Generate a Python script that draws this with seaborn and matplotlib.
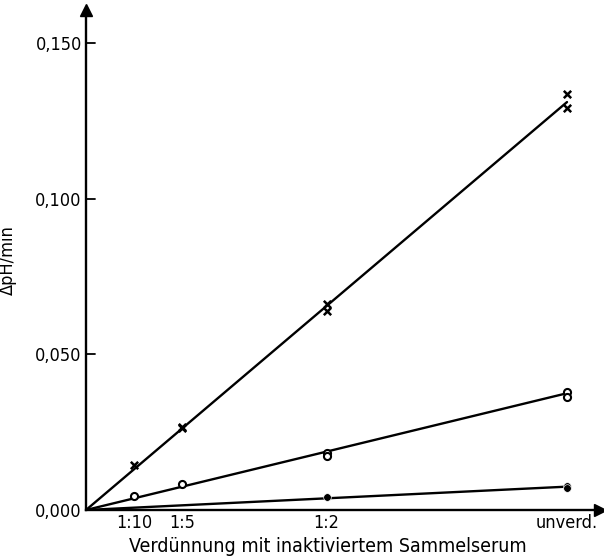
import matplotlib
matplotlib.use("Agg")
import matplotlib.pyplot as plt
import seaborn as sns
from matplotlib import font_manager

# ---- data ----
tick_pos = [0.1, 0.2, 0.5, 1.0]
tick_labels = ["1:10", "1:5", "1:2", "unverd."]
ytick_vals = [0.0, 0.05, 0.10, 0.15]
ytick_labels = ["0,000", "0,050", "0,100", "0,150"]

x_cross = [0.1, 0.2, 0.2, 0.5, 0.5, 1.0, 1.0]
y_cross = [0.0145, 0.0268, 0.0262, 0.0660, 0.0640, 0.1336, 0.1290]

x_circle = [0.1, 0.2, 0.5, 0.5, 1.0, 1.0]
y_circle = [0.0045, 0.0083, 0.0183, 0.0172, 0.0380, 0.0362]

x_dot = [0.5, 1.0, 1.0]
y_dot = [0.0042, 0.0077, 0.0071]

line_x = [0.0, 1.0]
line_cross = [0.0, 0.131]
line_circle = [0.0, 0.0375]
line_dot = [0.0, 0.0075]

sns.set_style("white")
names = sorted({f.name for f in font_manager.fontManager.ttflist})
fam = "Liberation Sans Narrow" if "Liberation Sans Narrow" in names else "DejaVu Sans"
plt.rcParams["font.family"] = [fam, "DejaVu Sans"]
plt.rcParams["font.stretch"] = "condensed"
plt.rcParams["text.color"] = "black"
plt.rcParams["axes.labelcolor"] = "black"
plt.rcParams["xtick.color"] = "black"
plt.rcParams["ytick.color"] = "black"

fig = plt.figure(figsize=(6.04, 5.57), dpi=100)
ax = fig.add_axes([86/604, 47/557, 514/604, 500/557])

for ly in (line_cross, line_circle, line_dot):
    sns.lineplot(x=line_x, y=ly, ax=ax, color="black", linewidth=1.7)

sns.scatterplot(x=x_cross, y=y_cross, ax=ax, marker="x", s=28, color="black", linewidth=1.8)
sns.scatterplot(x=x_circle, y=y_circle, ax=ax, marker="o", s=26, facecolor="white",
                edgecolor="black", linewidth=1.5, zorder=3)
sns.scatterplot(x=x_dot, y=y_dot, ax=ax, marker="o", s=30, color="black", zorder=3)

ax.set_xlim(0, 514/481)
ax.set_ylim(0, 500/3114)
ax.set_xticks(tick_pos)
ax.set_xticklabels(tick_labels, fontsize=13)
ax.set_yticks(ytick_vals)
ax.set_yticklabels(ytick_labels, fontsize=13)
ax.tick_params(axis="x", direction="in", length=7, width=1.3, color="black", pad=3)
ax.tick_params(axis="y", direction="out", length=0, pad=3)
for v in ytick_vals[1:]:
    ax.plot([0, 0.018], [v, v], color="black", lw=1.3, clip_on=False)

for s in ("top", "right"):
    ax.spines[s].set_visible(False)
for s in ("left", "bottom"):
    ax.spines[s].set_linewidth(1.7)
    ax.spines[s].set_color("black")

ax.plot(1, 0, ">", color="black", markersize=9, transform=ax.transAxes, clip_on=False)
ax.plot(0, 1, "^", color="black", markersize=9, transform=ax.transAxes, clip_on=False)

ax.set_xlabel("Verdünnung mit inaktiviertem Sammelserum", fontsize=14)
ax.xaxis.set_label_coords(0.47, -0.053)
ax.set_ylabel("ΔpH/min", fontsize=13)
ax.yaxis.set_label_coords(-0.135, 0.5)

fig.savefig("out.png", dpi=100)
